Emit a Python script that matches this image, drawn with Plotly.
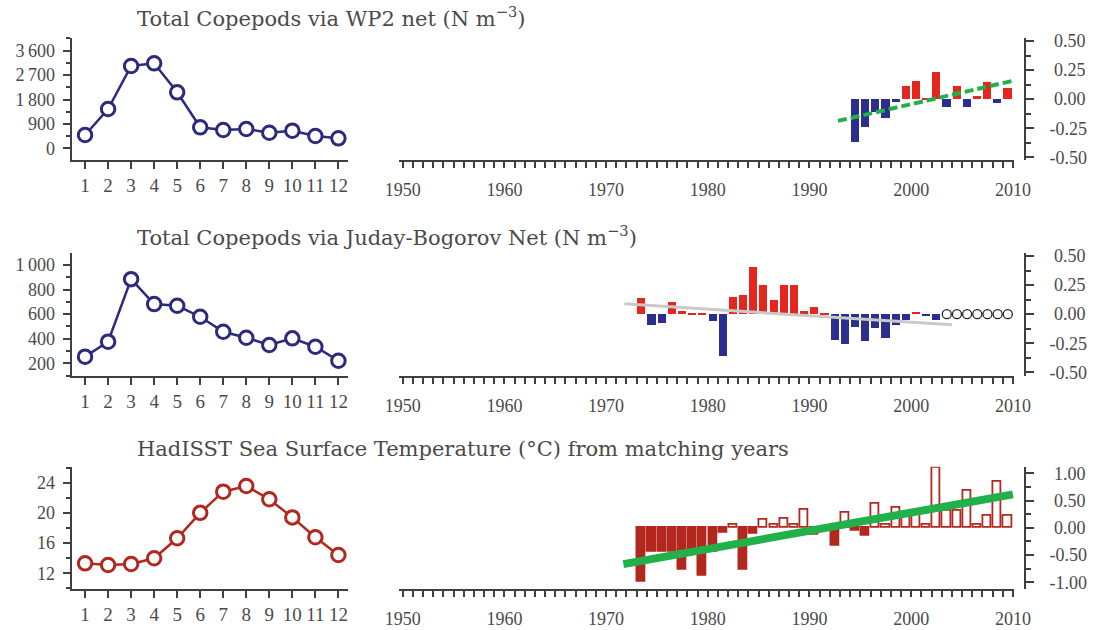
import plotly.graph_objects as go
import numpy as np

W, H = 1101, 630

# ---------------- data ----------------
months = list(range(1, 13))
wp2_monthly = [490, 1450, 3035, 3135, 2065, 775, 675, 712, 575, 650, 454, 369]
jb_monthly = [254, 376, 885, 682, 668, 579, 457, 408, 349, 403, 335, 221]
sst_monthly = [13.32, 13.10, 13.23, 13.99, 16.64, 20.0, 22.8, 23.55, 21.8, 19.4, 16.77, 14.42]

wp2_years = list(range(1995, 2011))
wp2_anom = [-0.37, -0.24, -0.11, -0.16, -0.02, 0.115, 0.155, 0.01, 0.23, -0.066,
            0.11, -0.066, 0.026, 0.146, -0.03, 0.10]
wp2_trend_years = [1992.8, 2010.0]
wp2_trend_vals = [-0.187, 0.158]

jb_years = list(range(1974, 2004))
jb_anom = [0.135, -0.095, -0.075, 0.106, 0.026, 0.01, 0.01, -0.058, -0.358, 0.144,
           0.163, 0.407, 0.255, 0.12, 0.25, 0.25, 0.026, 0.058, 0.01, -0.218,
           -0.26, -0.109, -0.23, -0.118, -0.204, -0.089, -0.052, 0.02, -0.012, -0.046]
jb_missing_years = list(range(2004, 2011))
jb_missing_vals = [0, 0, 0, 0, 0, 0, 0]
jb_trend_years = [1971.8, 2004.0]
jb_trend_vals = [0.089, -0.092]

sst_years = list(range(1974, 2011))
sst_anom = [-0.99, -0.44, -0.44, -0.44, -0.76, -0.44, -0.87, -0.44, -0.09, 0.05,
            -0.76, -0.10, 0.15, 0.05, 0.17, 0.05, 0.34, -0.13, -0.03, -0.32,
            0.28, -0.06, -0.15, 0.45, 0.05, 0.37, 0.25, 0.28, 0.05, 1.11,
            0.32, 0.32, 0.68, 0.05, 0.23, 0.84, 0.23]
sst_trend_years = [1971.7, 2010.0]
sst_trend_vals = [-0.666, 0.613]

month_ticks = [str(m) for m in months]
decade_ticks = [1950, 1960, 1970, 1980, 1990, 2000, 2010]
titles = ["Total Copepods via WP2 net (N m<sup>\u22123</sup>)",
          "Total Copepods via Juday-Bogorov Net (N m<sup>\u22123</sup>)",
          "HadISST Sea Surface Temperature (\u00b0C) from matching years"]

# ---------------- style ----------------
FONT = "Liberation Serif"
TFONT = "DejaVu Serif"
TXT = "#4a4a4a"
AX = "#3f3f3f"
NAVY = "#2c2a7c"
DKRED = "#b3281e"
RED = "#e5261f"
BLUE = "#2b2d8f"
GREEN = "#22b04b"
GRAY = "#c9c9c9"


def px_x(a, b):
    return [a / W, b / W]


def px_y(top, bottom):
    return [1 - bottom / H, 1 - top / H]


LX = px_x(71.7, 348.3)
RX = px_x(399.3, 1014.0)
RPOS = 1025 / W
rows = [(38, 160), (253, 376), (466.7, 589.3)]

fig = go.Figure()

# left panels
left_data = [(wp2_monthly, NAVY), (jb_monthly, NAVY), (sst_monthly, DKRED)]
for i, (vals, col) in enumerate(left_data):
    n = 2 * i + 1
    fig.add_trace(go.Scatter(
        x=months, y=vals, mode="lines+markers",
        line=dict(color=col, width=2.5),
        marker=dict(symbol="circle", size=13.5, color="white",
                    line=dict(color=col, width=3)),
        xaxis=f"x{n}", yaxis=f"y{n}", showlegend=False, cliponaxis=False))


def bar_colors(vals):
    return [RED if v >= 0 else BLUE for v in vals]


# right panel 1 (WP2)
fig.add_trace(go.Bar(x=wp2_years, y=wp2_anom, width=0.8, offset=-0.9,
                     marker=dict(color=bar_colors(wp2_anom), line=dict(width=0)),
                     xaxis="x2", yaxis="y2", showlegend=False))
fig.add_trace(go.Scatter(x=wp2_trend_years, y=wp2_trend_vals, mode="lines",
                         line=dict(color=GREEN, width=4, dash="9px,4px"),
                         xaxis="x2", yaxis="y2", showlegend=False))

# right panel 2 (JB)
fig.add_trace(go.Scatter(x=jb_trend_years, y=jb_trend_vals, mode="lines",
                         line=dict(color=GRAY, width=3),
                         xaxis="x4", yaxis="y4", showlegend=False))
fig.add_trace(go.Bar(x=jb_years, y=jb_anom, width=0.8, offset=-0.9,
                     marker=dict(color=bar_colors(jb_anom), line=dict(width=0)),
                     xaxis="x4", yaxis="y4", showlegend=False))
fig.add_trace(go.Scatter(x=np.array(jb_missing_years) - 0.5, y=jb_missing_vals,
                         mode="markers",
                         marker=dict(symbol="circle", size=9, color="white",
                                     line=dict(color="#222222", width=1.3)),
                         xaxis="x4", yaxis="y4", showlegend=False))

# right panel 3 (SST)
fig.add_trace(go.Scatter(x=sst_trend_years, y=sst_trend_vals, mode="lines",
                         line=dict(color=GREEN, width=8),
                         xaxis="x6", yaxis="y6", showlegend=False))
sst_fill = ["white" if v >= 0 else DKRED for v in sst_anom]
fig.add_trace(go.Bar(x=sst_years, y=sst_anom, width=0.8, offset=-0.9,
                     marker=dict(color=sst_fill, line=dict(color=DKRED, width=1.8)),
                     xaxis="x6", yaxis="y6", showlegend=False))

tickfont = dict(family=FONT, size=18, color=TXT)
common_axis = dict(showgrid=False, zeroline=False, showline=True, linecolor=AX,
                   linewidth=2, ticks="outside", tickcolor=AX, tickwidth=1.8,
                   tickfont=tickfont, fixedrange=True, automargin=False)

left_y = [
    dict(range=[-431, 4068], tickvals=[0, 900, 1800, 2700, 3600],
         ticktext=["0", "900", "1\u2009800", "2\u2009700", "3\u2009600"], minor_dtick=450),
    dict(range=[96.7, 1097.6], tickvals=[200, 400, 600, 800, 1000],
         ticktext=["200", "400", "600", "800", "1\u2009000"], minor_dtick=100),
    dict(range=[9.88, 26.11], tickvals=[12, 16, 20, 24],
         ticktext=["12", "16", "20", "24"], minor_dtick=2),
]
right_y = [
    dict(range=[-0.523, 0.526], tickvals=[-0.5, -0.25, 0, 0.25, 0.5],
         ticktext=["-0.50", "-0.25", "\u00a00.00", "\u00a00.25", "\u00a00.50"], minor_dtick=0.125),
    dict(range=[-0.532, 0.526], tickvals=[-0.5, -0.25, 0, 0.25, 0.5],
         ticktext=["-0.50", "-0.25", "\u00a00.00", "\u00a00.25", "\u00a00.50"], minor_dtick=0.125),
    dict(range=[-1.128, 1.121], tickvals=[-1, -0.5, 0, 0.5, 1],
         ticktext=["-1.00", "-0.50", "\u00a00.00", "\u00a00.50", "\u00a01.00"], minor_dtick=0.25),
]

layout = dict(width=W, height=H, autosize=False,
              margin=dict(l=0, r=0, t=0, b=0, pad=0, autoexpand=False),
              paper_bgcolor="white", plot_bgcolor="white", bargap=0,
              showlegend=False,
              font=dict(family=FONT, color=TXT))
for i, (top, bottom) in enumerate(rows):
    ln = 2 * i + 1
    rn = 2 * i + 2
    yd = px_y(top, bottom)
    ly = left_y[i]
    layout[f"xaxis{ln}"] = dict(common_axis, domain=LX, anchor=f"y{ln}",
                                range=[0.42, 12.43], tickvals=months,
                                ticktext=month_ticks, ticklen=7,
                                tickfont=dict(family=FONT, size=19, color=TXT))
    layout[f"yaxis{ln}"] = dict(common_axis, domain=yd, anchor=f"x{ln}",
                                range=ly["range"], tickvals=ly["tickvals"],
                                ticktext=ly["ticktext"], ticklen=7,
                                ticklabelstandoff=4,
                                minor=dict(dtick=ly["minor_dtick"], ticks="outside",
                                           ticklen=4, tickcolor=AX, tickwidth=1.5))
    ry = right_y[i]
    layout[f"xaxis{rn}"] = dict(common_axis, domain=RX, anchor=f"y{rn}",
                                range=[1949.666, 2010.11], tickvals=decade_ticks,
                                ticklen=6, ticklabelstandoff=6,
                                minor=dict(dtick=1, tick0=1950, ticks="outside",
                                           ticklen=6, tickcolor=AX, tickwidth=1.5))
    layout[f"yaxis{rn}"] = dict(common_axis, domain=yd, anchor="free",
                                position=RPOS, side="right",
                                range=ry["range"], tickvals=ry["tickvals"],
                                ticktext=ry["ticktext"], ticklen=8,
                                ticklabelstandoff=12,
                                minor=dict(dtick=ry["minor_dtick"], ticks="outside",
                                           ticklen=5, tickcolor=AX, tickwidth=1.5))

title_y = [17, 236, 449]
layout["annotations"] = [
    dict(text=t, x=135 / W, y=1 - ty / H, xref="paper", yref="paper",
         xanchor="left", yanchor="middle", showarrow=False,
         font=dict(family=TFONT, size=21, color=TXT))
    for t, ty in zip(titles, title_y)
]

fig.update_layout(**layout)
fig.write_html("out.html", config=dict(displayModeBar=False, responsive=False),
               post_script="document.body.style.margin='0';")
